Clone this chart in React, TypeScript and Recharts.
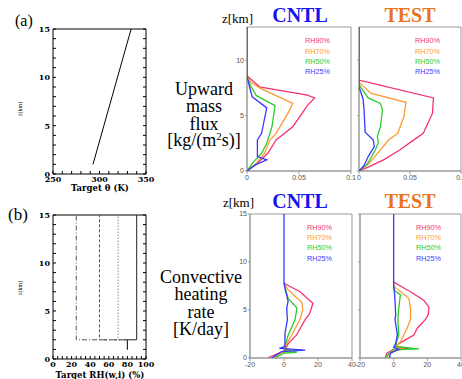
import React from 'react';
import { ScatterChart, Scatter, XAxis, YAxis, ReferenceArea } from 'recharts';

const W = 462;
const H = 379;

// ---------- colours ----------
const C90 = '#f5336e';
const C70 = '#ff9a33';
const C50 = '#2ccc2c';
const C25 = '#3838ff';

// ---------- panel (a): target potential temperature ----------
const thetaValues = [293, 334];
const thetaHeights = [1, 15];
const thetaTicks = [250, 260, 270, 280, 290, 300, 310, 320, 330, 340, 350];
const thetaLabels = [250, 300, 350];
const zTicksLeft = [0, 1, 2, 3, 4, 5, 6, 7, 8, 9, 10, 11, 12, 13, 14, 15];
const zLabelsLeft = [0, 5, 10, 15];

// ---------- panel (b): target RH ----------
const rhLevels = [25, 50, 70, 90];
const rhDash = ['5 2 1 2', '3 2', '1 2', ''];
const rhSurface = 80;
const rhSurfaceZ = 1;
const rhBaseZ = 2;
const rhTopZ = 15;
const rhTicks = [0, 5, 10, 15, 20, 25, 30, 35, 40, 45, 50, 55, 60, 65, 70, 75, 80, 85, 90, 95, 100];
const rhLabels = [0, 20, 40, 60, 80, 100];

// ---------- upward mass flux [kg/(m2 s)] : [value, z] ----------
const mfCntl90: [number, number][] = [[0, 8.6], [0.012, 7.6], [0.058, 6.85], [0.065, 6.6], [0.058, 5.9], [0.05, 4.8], [0.044, 4.0], [0.028, 2.8], [0.02, 1.6], [0.011, 0.8], [0, 0]];
const mfCntl70: [number, number][] = [[0, 8.5], [0.004, 8.0], [0.012, 7.5], [0.044, 6.1], [0.041, 5.5], [0.038, 5.0], [0.028, 3.4], [0.022, 2.8], [0.017, 1.6], [0.008, 0.6], [0, 0]];
const mfCntl50: [number, number][] = [[0, 8.5], [0.004, 7.6], [0.009, 6.8], [0.027, 5.9], [0.024, 4.0], [0.019, 2.5], [0.014, 1.6], [0.006, 0.8], [0, 0]];
const mfCntl25: [number, number][] = [[0, 13], [0, 8.5], [0.003, 7.4], [0.005, 6.7], [0.019, 5.7], [0.014, 3.4], [0.01, 2.8], [0.01, 1.3], [0.019, 1.0], [0.008, 0.55], [0, 0]];
const mfTest90: [number, number][] = [[0, 8.2], [0.073, 6.6], [0.072, 5.2], [0.063, 3.4], [0.052, 2.7], [0.04, 1.9], [0.024, 1.0], [0.01, 0.4], [0, 0]];
const mfTest70: [number, number][] = [[0, 8.0], [0.012, 7.0], [0.046, 6.2], [0.044, 4.9], [0.038, 3.4], [0.029, 2.8], [0.02, 1.8], [0.01, 0.7], [0, 0]];
const mfTest50: [number, number][] = [[0, 7.8], [0.009, 6.6], [0.021, 6.1], [0.023, 5.5], [0.021, 4.0], [0.018, 3.1], [0.019, 2.6], [0.016, 1.9], [0.008, 0.6], [0, 0]];
const mfTest25: [number, number][] = [[0, 13], [0, 7.6], [0.004, 6.5], [0.005, 5.5], [0.006, 3.5], [0.014, 2.8], [0.015, 2.2], [0.009, 1.3], [0.005, 0.5], [0, 0]];
const mfTicks = [0, 0.05, 0.1];
const mfZTicks = [0, 5, 10];

// ---------- convective heating rate [K/day] : [value, z] ----------
const hrCntl90: [number, number][] = [[0, 7.8], [3, 7.5], [9.4, 6.9], [17, 5.7], [15, 4.6], [12.4, 4.0], [7.4, 2.4], [2.5, 1.5], [1, 1.0], [2.5, 0.9], [-3, 0.5], [-9, 0.05]];
const hrCntl70: [number, number][] = [[0, 7.8], [2, 7.2], [6, 6.5], [10.5, 5.8], [11, 5.0], [9.4, 4.0], [4.5, 2.4], [1.6, 1.5], [0.5, 1.1], [4, 0.8], [-2, 0.5], [-6, 0.05]];
const hrCntl50: [number, number][] = [[0, 7.8], [1.2, 7.0], [2.4, 6.2], [7.6, 5.2], [6.5, 4.0], [2.5, 2.4], [0.8, 1.4], [0.3, 0.9], [7.5, 0.6], [0, 0.5], [-5, 0.05]];
const hrCntl25: [number, number][] = [[0, 15], [0, 7.8], [0.6, 7.2], [1.8, 6.4], [2.4, 5.9], [1.6, 5.2], [2, 4.0], [0.6, 2.6], [0.5, 1.2], [-2.7, 1.0], [12.4, 0.83], [-1.4, 0.66], [-7, 0.02]];
const hrTest90: [number, number][] = [[0, 7.9], [4, 7.5], [10, 6.9], [18, 6.0], [21, 5.3], [20.5, 4.5], [18.8, 4.0], [14, 3.1], [12, 2.4], [3.1, 1.5], [1, 1.2], [9, 1.0], [0, 0.9], [-4, 0.5], [-5, 0.05]];
const hrTest70: [number, number][] = [[0, 7.6], [1, 7.3], [5, 6.8], [9, 6.2], [10, 5.2], [10, 4.0], [8, 3.1], [4, 1.7], [1, 1.1], [6, 0.95], [-2, 0.6], [-4, 0.05]];
const hrTest50: [number, number][] = [[0, 7.5], [0.6, 7.0], [4, 6.6], [3, 5.2], [2.5, 4.0], [3, 2.4], [1, 1.2], [15, 0.95], [0, 0.85], [-3, 0.4], [-5, 0.05]];
const hrTest25: [number, number][] = [[0, 15], [0, 7.4], [0.6, 6.6], [1.2, 4.5], [0.8, 4.0], [2.2, 2.4], [1.2, 1.5], [0, 1.1], [3, 0.9], [-1.8, 0.5], [-2.5, 0.02]];
const hrTicks = [-20, 0, 20, 40];
const hrZTicks = [0, 5, 10, 15];

const legendNames = ['RH90%', 'RH70%', 'RH50%', 'RH25%'];
const legendColors = [C90, C70, C50, C25];

type Pt = { v: number; z: number };
const pts = (a: [number, number][]): Pt[] => a.map(([v, z]) => ({ v, z }));

type Series = { data: Pt[]; color: string; width: number; dash?: string };
type Box = { l: number; t: number; r: number; b: number };

const Nothing = () => <g />;

function ClassicPanel({ box, xDomain, yDomain, xTicks, xLabels, series }: {
  box: Box; xDomain: [number, number]; yDomain: [number, number]; xTicks: number[]; xLabels: number[]; series: Series[];
}) {
  const yw = 30;
  const xh = 22;
  const margin = { left: box.l - yw, top: box.t - 1, right: W - box.r - 1, bottom: H - box.b - xh };
  const tickFont = { fontSize: 8, fontFamily: 'DejaVu Serif', fontWeight: 'bold', fill: '#000' } as any;
  return (
    <div style={{ position: 'absolute', left: 0, top: 0 }}>
      <ScatterChart width={W} height={H} margin={margin}>
        <XAxis xAxisId={0} type="number" dataKey="v" domain={xDomain} ticks={xTicks} interval={0} allowDataOverflow height={xh}
          tickSize={-3} tickMargin={5} axisLine={{ stroke: '#000' }} tickLine={{ stroke: '#000' }} tick={tickFont}
          tickFormatter={(v: number) => (xLabels.includes(v) ? String(v) : '')} />
        <XAxis xAxisId="top" orientation="top" type="number" domain={xDomain} ticks={xTicks} interval={0} allowDataOverflow height={1}
          tickSize={-3} axisLine={{ stroke: '#000' }} tickLine={{ stroke: '#000' }} tickFormatter={() => ''} />
        <YAxis yAxisId={0} type="number" dataKey="z" domain={yDomain} ticks={zTicksLeft} interval={0} allowDataOverflow width={yw}
          tickSize={-3} tickMargin={6} axisLine={{ stroke: '#000' }} tickLine={{ stroke: '#000' }} tick={tickFont}
          tickFormatter={(v: number) => (zLabelsLeft.includes(v) ? String(v) : '')} />
        <YAxis yAxisId="right" orientation="right" type="number" domain={yDomain} ticks={zTicksLeft} interval={0} allowDataOverflow width={1}
          tickSize={-3} axisLine={{ stroke: '#000' }} tickLine={{ stroke: '#000' }} tickFormatter={() => ''} />
        {series.map((s, i) => (
          <Scatter key={i} data={s.data} xAxisId={0} yAxisId={0} fill="none" shape={Nothing} isAnimationActive={false}
            line={{ stroke: s.color, strokeWidth: s.width, strokeDasharray: s.dash || undefined }} />
        ))}
      </ScatterChart>
    </div>
  );
}

function ModelPanel({ box, xDomain, yDomain, xTicks, yTicks, showY, xFmt, series }: {
  box: Box; xDomain: [number, number]; yDomain: [number, number]; xTicks: number[]; yTicks: number[]; showY: boolean;
  xFmt: (v: number) => string; series: Series[];
}) {
  const yw = 30;
  const xh = 14;
  const margin = { left: box.l - yw, top: box.t, right: W - box.r, bottom: H - box.b - xh };
  const tickFont = { fontSize: 7, fontFamily: 'Liberation Sans', fill: '#555' } as any;
  return (
    <div style={{ position: 'absolute', left: 0, top: 0 }}>
      <ScatterChart width={W} height={H} margin={margin}>
        <XAxis type="number" dataKey="v" domain={xDomain} ticks={xTicks} interval={0} allowDataOverflow height={xh}
          tickSize={3} tickMargin={1} axisLine={{ stroke: '#999' }} tickLine={{ stroke: '#999' }} tick={tickFont} tickFormatter={xFmt} />
        <YAxis type="number" dataKey="z" domain={yDomain} ticks={yTicks} interval={0} allowDataOverflow width={yw}
          tickSize={2} tickMargin={1} axisLine={{ stroke: '#999' }} tickLine={{ stroke: '#999' }} tick={tickFont}
          tickFormatter={(v: number) => (showY ? String(v) : '')} />
        <ReferenceArea x1={xDomain[0]} x2={xDomain[1]} y1={yDomain[0]} y2={yDomain[1]} fill="none" stroke="#999" strokeWidth={1} fillOpacity={0} />
        {series.map((s, i) => (
          <Scatter key={i} data={s.data} fill="none" shape={Nothing} isAnimationActive={false}
            line={{ stroke: s.color, strokeWidth: s.width }} />
        ))}
      </ScatterChart>
    </div>
  );
}

const four = (a: [number, number][][]): Series[] =>
  a.map((d, i) => ({ data: pts(d), color: legendColors[i], width: 1.3 }));

const mfFmt = (v: number) => (v === 0 ? '0' : String(v));
const hrFmt = (v: number) => String(v);

function Legend({ x, baselines }: { x: number; baselines: number[] }) {
  return (
    <g>
      {legendNames.map((n, i) => (
        <text key={n} x={x} y={baselines[i]} fontSize={8} fontFamily="Liberation Sans" fill={legendColors[i]}
          textLength={25} lengthAdjust="spacingAndGlyphs">{n}</text>
      ))}
    </g>
  );
}

export default function App() {
  const thetaSeries: Series[] = [{ data: thetaValues.map((v, i) => ({ v, z: thetaHeights[i] })), color: '#000', width: 1 }];
  const rhSeries: Series[] = rhLevels.map((rh, i) => ({
    data: [
      { v: rhSurface, z: rhSurfaceZ },
      { v: rhSurface, z: rhBaseZ },
      { v: rh, z: rhBaseZ },
      { v: rh, z: rhTopZ },
    ],
    color: i === 3 ? '#222' : '#555',
    width: 1,
    dash: rhDash[i],
  }));

  const serif = 'Liberation Serif, Times New Roman, serif';
  const titleStyle = { fontFamily: serif, fontWeight: 'bold' as const, fontSize: 20 };

  return (
    <div style={{ position: 'absolute', left: 0, top: 0, width: W, height: H, background: '#fff', overflow: 'hidden' }}>
      <ClassicPanel box={{ l: 53, t: 29, r: 146, b: 174 }} xDomain={[250, 350]} yDomain={[0, 15]}
        xTicks={thetaTicks} xLabels={thetaLabels} series={thetaSeries} />
      <ClassicPanel box={{ l: 53, t: 215, r: 146, b: 359 }} xDomain={[0, 100]} yDomain={[0, 15]}
        xTicks={rhTicks} xLabels={rhLabels} series={rhSeries} />

      <ModelPanel box={{ l: 247, t: 27, r: 351, b: 171 }} xDomain={[0, 0.1]} yDomain={[0, 13]} xTicks={mfTicks} yTicks={mfZTicks}
        showY xFmt={mfFmt} series={four([mfCntl90, mfCntl70, mfCntl50, mfCntl25])} />
      <ModelPanel box={{ l: 359, t: 27, r: 461, b: 171 }} xDomain={[0, 0.1]} yDomain={[0, 13]} xTicks={mfTicks} yTicks={mfZTicks}
        showY={false} xFmt={mfFmt} series={four([mfTest90, mfTest70, mfTest50, mfTest25])} />
      <ModelPanel box={{ l: 250, t: 214, r: 352, b: 358 }} xDomain={[-20, 40]} yDomain={[0, 15]} xTicks={hrTicks} yTicks={hrZTicks}
        showY xFmt={hrFmt} series={four([hrCntl90, hrCntl70, hrCntl50, hrCntl25])} />
      <ModelPanel box={{ l: 360, t: 214, r: 461, b: 358 }} xDomain={[-20, 40]} yDomain={[0, 15]} xTicks={hrTicks} yTicks={hrZTicks}
        showY={false} xFmt={hrFmt} series={four([hrTest90, hrTest70, hrTest50, hrTest25])} />

      <svg width={W} height={H} style={{ position: 'absolute', left: 0, top: 0, pointerEvents: 'none' }}>
        {/* left panel labels */}
        <text x={15} y={26} fontSize={16} fontFamily={serif}>(a)</text>
        <text x={8} y={220} fontSize={17} fontFamily={serif}>(b)</text>
        <text transform="translate(22,109) rotate(-90)" textAnchor="middle" fontSize={6} fontFamily={serif}>z(km)</text>
        <text transform="translate(22,288) rotate(-90)" textAnchor="middle" fontSize={6} fontFamily={serif}>z(km)</text>
        <text x={100} y={191} textAnchor="middle" fontSize={8.5} fontWeight="bold" fontFamily="DejaVu Serif">Target θ (K)</text>
        <text x={100} y={378} textAnchor="middle" fontSize={8.5} fontWeight="bold" fontFamily="DejaVu Serif">Target RH(w,i) (%)</text>

        {/* row titles */}
        <g fontFamily={serif} fontSize={18} textAnchor="middle" fill="#000">
          <text x={204} y={95}>Upward</text>
          <text x={204} y={112}>mass</text>
          <text x={204} y={130}>flux</text>
          <text x={204} y={146}>[kg/(m<tspan fontSize={11} dy={-6}>2</tspan><tspan dy={6}>s)]</tspan></text>
          <text x={201} y={283}>Convective</text>
          <text x={201} y={300}>heating</text>
          <text x={201} y={318}>rate</text>
          <text x={201} y={335}>[K/day]</text>
        </g>

        {/* column titles */}
        <text x={222} y={23} fontSize={13} fontFamily={serif}>z[km]</text>
        <text x={300} y={22} textAnchor="middle" fill="#1414f0" style={titleStyle}>CNTL</text>
        <text x={410} y={22} textAnchor="middle" fill="#e8731c" style={titleStyle}>TEST</text>
        <text x={223} y={207} fontSize={13} fontFamily={serif}>z[km]</text>
        <text x={300} y={208} textAnchor="middle" fill="#1414f0" style={titleStyle}>CNTL</text>
        <text x={410} y={208} textAnchor="middle" fill="#e8731c" style={titleStyle}>TEST</text>

        {/* legends */}
        <Legend x={305} baselines={[43, 53.5, 63.5, 74]} />
        <Legend x={415} baselines={[43, 53.5, 63.5, 74]} />
        <Legend x={307} baselines={[229.5, 240, 250, 260.5]} />
        <Legend x={416} baselines={[229.5, 240, 250, 260.5]} />
      </svg>
    </div>
  );
}
